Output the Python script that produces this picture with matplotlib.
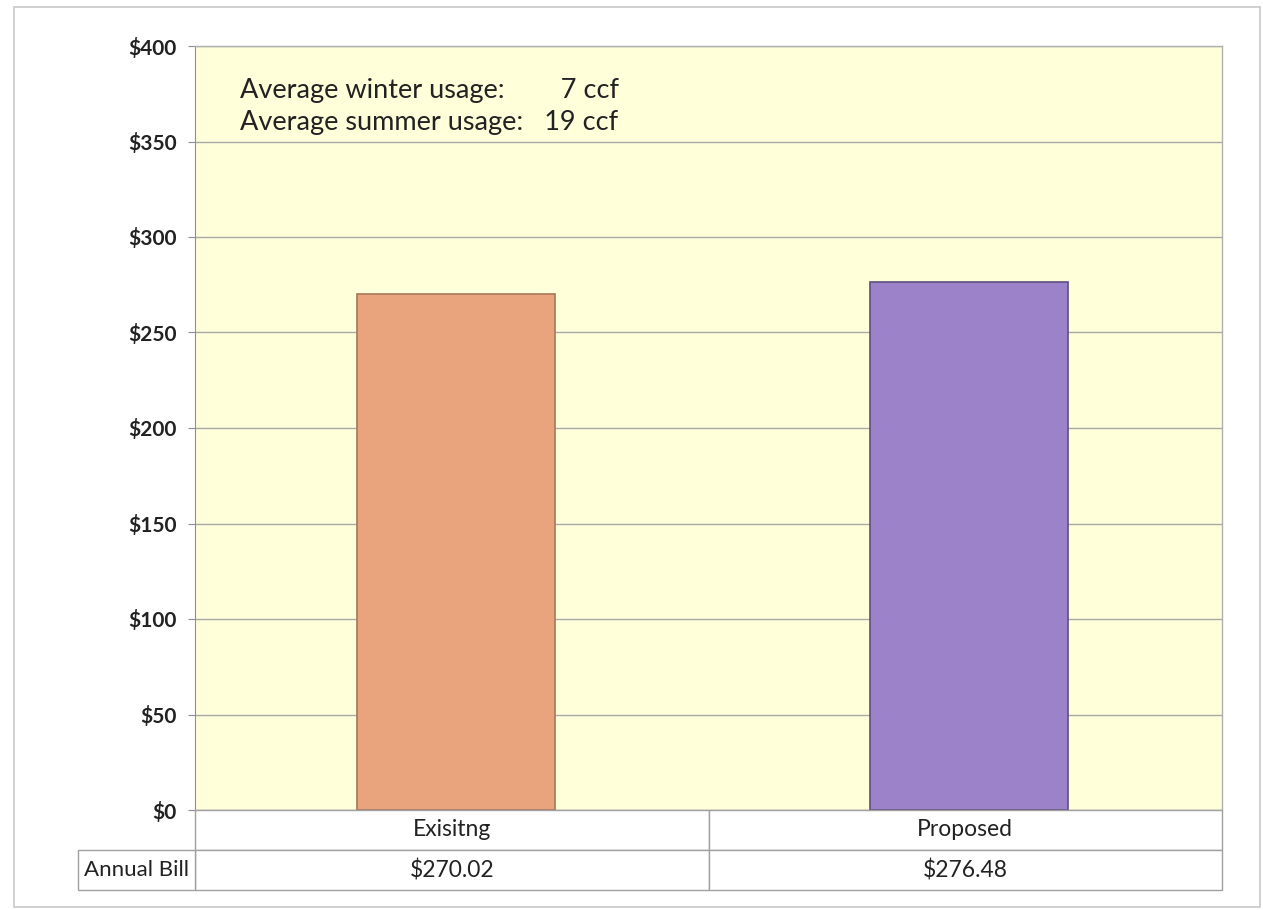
import matplotlib
matplotlib.use("Agg")
import matplotlib.pyplot as plt
from matplotlib.patches import Rectangle

categories = ["Exisitng", "Proposed"]
values = [270.02, 276.48]
value_labels = ["$270.02", "$276.48"]
row_label = "Annual Bill"
bar_colors = ["#E9A47E", "#9B82C9"]
edge_colors = ["#A87758", "#5E4E80"]
yticks = [0, 50, 100, 150, 200, 250, 300, 350, 400]
ytick_labels = ["$0", "$50", "$100", "$150", "$200", "$250", "$300", "$350", "$400"]
notes = ["Average winter usage:        7 ccf", "Average summer usage:   19 ccf"]

W, H = 1263, 910
plt.rcParams['font.family'] = ['Lato', 'DejaVu Sans']
fig = plt.figure(figsize=(W / 100, H / 100), dpi=100)

def fx(px):
    return px / W

def fy(py):
    return 1 - py / H

# outer chart border
fig.patches.append(Rectangle((fx(14), fy(907)), fx(1260) - fx(14), fy(7) - fy(907),
                             transform=fig.transFigure, fill=False,
                             edgecolor="#C8C8C8", linewidth=1.2))

left, right, top, bottom = 195, 1222, 46, 810
ax = fig.add_axes([fx(left), fy(bottom), fx(right) - fx(left), fy(top) - fy(bottom)])
ax.set_facecolor("#FFFFDA")
ax.set_xlim(-0.508, 1.492)
ax.set_ylim(0, 400)
ax.set_yticks(yticks)
ax.set_yticklabels(ytick_labels, fontsize=15, color="#222222", fontweight="bold")
ax.set_xticks([])
ax.grid(axis="y", color="#A8A8A8", linewidth=1.0)
ax.set_axisbelow(True)
for s in ["top", "right"]:
    ax.spines[s].set_color("#B0B0B0")
    ax.spines[s].set_linewidth(1.0)
ax.spines["bottom"].set_color("#909090")
ax.spines["left"].set_color("#909090")
ax.tick_params(axis="y", length=5, color="#909090", pad=8)

x = list(range(len(categories)))
ax.bar(x, values, width=0.386, color=bar_colors, edgecolor=edge_colors, linewidth=1.2, zorder=3)

ax.text(0.044, 0.942, notes[0], transform=ax.transAxes, fontsize=19.5, color="#222222", va="center")
ax.text(0.044, 0.900, notes[1], transform=ax.transAxes, fontsize=19.5, color="#222222", va="center")

# data table below the plot
tax = fig.add_axes([fx(left), fy(890), fx(right) - fx(left), fy(bottom) - fy(890)])
tax.set_xlim(-0.5, 1.5)
tax.set_ylim(0, 2)
tax.axis("off")
lc = "#A0A0A0"
for i, (cat, lab) in enumerate(zip(categories, value_labels)):
    tax.add_patch(Rectangle((i - 0.5, 1), 1, 1, facecolor="white", edgecolor=lc,
                            linewidth=1.0, clip_on=False))
    tax.add_patch(Rectangle((i - 0.5, 0), 1, 1, facecolor="white", edgecolor=lc,
                            linewidth=1.0, clip_on=False))
    tax.text(i, 1.5, cat, ha="center", va="center", fontsize=16.5, color="#222222")
    tax.text(i, 0.5, lab, ha="center", va="center", fontsize=16.5, color="#222222")
# row label cell, left of the axes
lab_w = (left - 78) / (right - left) * 2
tax.add_patch(Rectangle((-0.5 - lab_w, 0), lab_w, 1, facecolor="white", edgecolor=lc,
                        linewidth=1.0, clip_on=False))
tax.text(-0.5 - lab_w / 2, 0.5, row_label, ha="center", va="center", fontsize=16,
         color="#222222", clip_on=False)

fig.savefig("out.png", dpi=100, facecolor="white")
